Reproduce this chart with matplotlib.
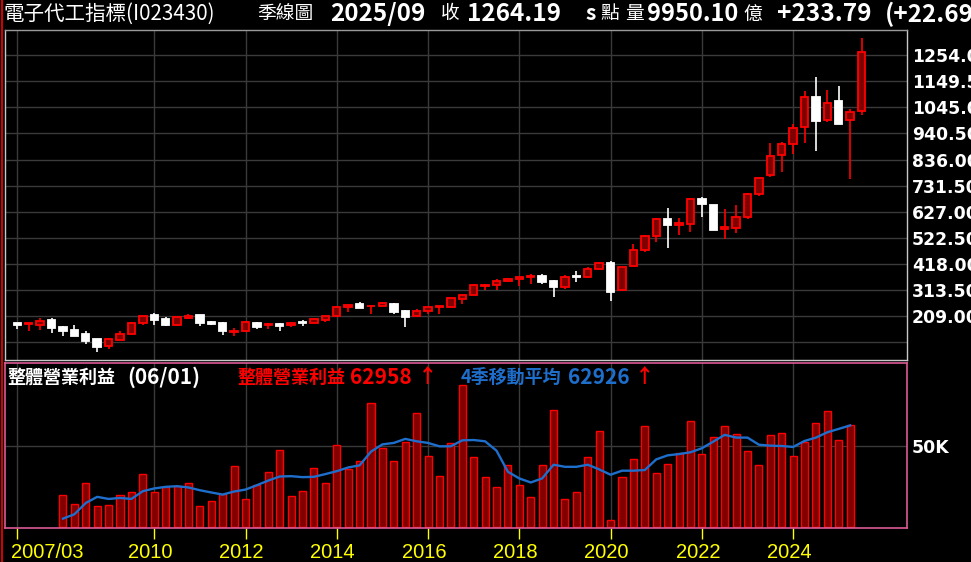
import numpy as np
import matplotlib
matplotlib.use('Agg')
import matplotlib.pyplot as plt
from matplotlib import transforms, font_manager
from matplotlib.lines import Line2D

# ──────────────────────────────────────────────
# DATA  (quarterly, 2007/03 .. 2025/09)
# ──────────────────────────────────────────────
opens = [182, 177, 175.5, 194, 166, 154, 138, 118, 91, 115,
         136.6, 181, 214, 198, 175.5, 203.6, 214, 186, 182, 147,
         148.7, 182, 172.8, 179.5, 172.8, 185, 181, 195.6, 209, 245,
         258.6, 249, 249, 258.6, 230, 209, 231.8, 245, 248, 279.5,
         292.8, 331, 332.6, 348.6, 356.6, 366, 368.5, 348.6, 327.3, 368.5,
         364.5, 396.5, 421.7, 312.7, 408.4, 472.2, 532, 600, 576, 578.7,
         679, 656, 558.6, 562.6, 606.8, 699, 775.3, 855.5, 899.6, 967.8,
         1088, 994.6, 1069.4, 996, 1030.4]
highs = [182, 181, 203.6, 202, 170, 174, 150, 118, 122, 150,
         185, 211.7, 221, 205, 205, 218, 214, 190, 186, 162,
         189, 186, 182, 182, 182, 195.6, 202, 209, 249, 253,
         266.6, 254.6, 266.6, 262.6, 234.5, 237, 245, 250.5, 281, 292.8,
         336.6, 336.6, 356.6, 360.6, 364.5, 376.5, 376.5, 352.6, 372.5, 388.5,
         404.4, 424.4, 429.7, 404.4, 500, 536, 604, 643.7, 604, 683,
         684.3, 656, 638.8, 656, 703, 763, 901, 907.6, 978.5, 1109.6,
         1165.7, 1113.6, 1129.6, 1040, 1322]
lows = [158, 150, 155, 142, 130, 131, 99, 65.6, 77.7, 115,
        136.6, 175.5, 175.5, 171.5, 171.5, 197, 171.5, 175.5, 135, 131,
        146, 159, 159, 151, 167.5, 171.5, 181, 187.6, 207.7, 227.8,
        243.8, 219.7, 249, 219.7, 167.5, 209, 217, 219.7, 248, 259.5,
        292.8, 312.7, 312.7, 344.6, 328.7, 336.6, 336.6, 287.4, 316.7, 347.3,
        364.5, 392.5, 271.5, 308.7, 408.4, 464.3, 508, 483, 533.2, 545.2,
        605.4, 553.3, 517.2, 541.2, 597.4, 691, 766, 786, 859.5, 902.3,
        870.2, 986.5, 978.5, 757.9, 1014.6]
closes = [174, 181, 189, 163.4, 150, 131, 110, 87, 116.5, 138,
          181, 209, 195.6, 175.5, 205, 210, 183.5, 178, 151.4, 150,
          185, 166, 179.5, 171.5, 182, 182, 198, 209, 245, 253,
          243.8, 252, 261, 227.8, 207.7, 229, 245, 250.5, 281, 292.8,
          332.6, 334, 348.6, 356.6, 364.5, 368.5, 346, 326, 364.5, 366,
          396.5, 420.4, 307.4, 404.4, 472.2, 532, 600, 576, 581.3, 679,
          657.6, 553.3, 566.6, 606.8, 699, 763, 851.5, 899.6, 963.8, 1088,
          990.5, 1064, 978.5, 1028, 1264.19]

price_ticks = [104.5, 209.0, 313.5, 418.0, 522.5, 627.0, 731.5, 836.0,
               940.5, 1045.0, 1149.5, 1254.0]

year_tick_idx = [0, 12, 20, 28, 36, 44, 52, 60, 68]
year_labels = ['2007/03', '2010', '2012', '2014', '2016', '2018', '2020', '2022', '2024']

# operating profit (thousand units), 2008/03 .. 2025/06 -> quarter index 4..73
profit_first_idx = 4
profit = [20.1, 14.5, 27.0, 13.3, 13.9, 20.1, 22.0, 32.6, 21.4, 24.5,
          25.3, 27.0, 13.3, 16.4, 20.7, 37.6, 17.6, 26.3, 33.8, 47.5,
          19.5, 22.6, 36.3, 27.0, 50.6, 35.7, 40.7, 76.8, 48.8, 40.7,
          52.5, 70.5, 43.8, 31.3, 51.9, 88.0, 43.2, 30.7, 24.5, 38.2,
          26.3, 18.9, 38.2, 72.4, 17.6, 21.4, 43.2, 59.3, 4.6, 30.7,
          41.9, 62.4, 33.2, 38.8, 45.6, 65.6, 45.0, 55.6, 62.4, 57.5,
          46.9, 38.2, 56.8, 58.1, 43.8, 52.5, 64.3, 71.8, 53.7, 62.958]
profit_ma4 = [5.2, 7.9, 14.9, 18.7, 17.4, 18.0, 17.4, 22.2, 23.9, 24.9,
              25.3, 24.5, 22.8, 21.4, 20.1, 22.0, 23.2, 25.9, 28.8, 31.3,
              31.5, 30.9, 31.1, 32.8, 34.6, 36.9, 38.2, 46.7, 51.2, 52.1,
              54.6, 53.1, 52.1, 50.0, 50.0, 53.7, 53.9, 53.1, 47.3, 34.2,
              30.1, 27.6, 30.1, 38.6, 37.3, 37.3, 38.6, 35.7, 32.4, 34.9,
              34.9, 35.3, 41.9, 44.4, 45.2, 46.3, 48.8, 52.9, 57.1, 55.4,
              55.4, 51.0, 50.4, 50.2, 49.6, 53.3, 55.4, 58.7, 60.8, 62.926]

# ──────────────────────────────────────────────
# STYLE
# ──────────────────────────────────────────────
plt.rcParams['font.family'] = ['Noto Sans CJK TC', 'DejaVu Sans']
BG = 'black'
RED = '#ff0000'
DARKRED = '#800000'
GRID = '#3a3a3a'
FRAME = '#c8c8c8'
PINK = '#dc5a96'
BLUE = '#1e6ecc'
YELLOW = '#ffff00'
W, H = 971, 562

# narrow font for the year labels, if there is one
def pick_narrow():
    for fam, stretch in [('Liberation Sans Narrow', 'normal'), ('Liberation Sans', 'condensed'),
                         ('DejaVu Sans', 'condensed')]:
        fp = font_manager.FontProperties(family=fam, stretch=stretch)
        f = font_manager.findfont(fp, fallback_to_default=False)
        if 'Narrow' in f or 'Condensed' in f:
            return fp, 15.5
    return font_manager.FontProperties(family='Liberation Sans'), 14.5

try:
    YEAR_FP, YEAR_SIZE = pick_narrow()
except Exception:
    YEAR_FP, YEAR_SIZE = font_manager.FontProperties(family='Liberation Sans'), 14.5

fig = plt.figure(figsize=(W / 100, H / 100), dpi=100, facecolor=BG)
ax1 = fig.add_axes([5 / W, 1 - 360 / H, 902 / W, 330.5 / H], facecolor=BG)
ax2 = fig.add_axes([5 / W, 1 - 528 / H, 902 / W, 165 / H], facecolor=BG)
XLIM = (-1.08, 77.98)

# ── price panel: candles ──
o = np.array(opens)
c = np.array(closes)
x = np.arange(len(o))
up = c >= o
wick_col = [RED if u else 'white' for u in up]
face_col = [DARKRED if u else 'white' for u in up]
edge_col = [RED if u else 'white' for u in up]
ax1.vlines(x, lows, highs, colors=wick_col, linewidth=1.2, zorder=2)
ax1.bar(x, np.abs(c - o), bottom=np.minimum(o, c), width=0.65,
        color=face_col, edgecolor=edge_col, linewidth=1.3, zorder=3)

ax1.set_xlim(*XLIM)
ax1.set_ylim(34.2, 1356)
ax1.set_yticks(price_ticks)
ax1.set_yticklabels(['' if v < 200 else f'{v:.2f}' for v in price_ticks])
ax1.yaxis.tick_right()
ax1.tick_params(axis='y', length=0, pad=3.5, labelcolor='white', labelsize=12.4)
for lab in ax1.get_yticklabels():
    lab.set_fontfamily('DejaVu Sans')
    lab.set_fontweight('bold')
ax1.set_xticks(year_tick_idx)
ax1.tick_params(axis='x', length=0, labelbottom=False)
ax1.grid(True, color=GRID, linewidth=1, zorder=0)
ax1.set_axisbelow(True)
for s in ax1.spines.values():
    s.set_color(FRAME)
    s.set_linewidth(1)
ax1.spines['top'].set_color('#9a9a9a')

# ── profit panel ──
px = np.arange(profit_first_idx, profit_first_idx + len(profit))
ax2.bar(px, profit, width=0.62, color=DARKRED, edgecolor=RED, linewidth=1.0, zorder=2)
ax2.plot(px, profit_ma4, color=BLUE, linewidth=1.7, zorder=3)
ax2.set_xlim(*XLIM)
ax2.set_ylim(-0.6, 101.6)
ax2.set_yticks([50])
ax2.set_yticklabels(['50K'])
ax2.yaxis.tick_right()
ax2.tick_params(axis='y', length=0, pad=3.5, labelcolor='white', labelsize=12.4)
for lab in ax2.get_yticklabels():
    lab.set_fontfamily('DejaVu Sans')
    lab.set_fontweight('bold')
ax2.set_xticks(year_tick_idx)
ax2.tick_params(axis='x', length=8, width=1, color=YELLOW, direction='out', labelbottom=False)
ax2.grid(True, color=GRID, linewidth=1, zorder=0)
ax2.set_axisbelow(True)
for s in ax2.spines.values():
    s.set_color(PINK)
    s.set_linewidth(1.2)

# year labels under the profit panel
lab_tr = transforms.blended_transform_factory(ax2.transData, fig.transFigure)
for i, (xi, lab) in enumerate(zip(year_tick_idx, year_labels)):
    if i == 0:
        off = transforms.ScaledTranslation(-6 / 100, 0, fig.dpi_scale_trans)
        ha = 'left'
    else:
        off = transforms.ScaledTranslation(-4 / 100, 0, fig.dpi_scale_trans)
        ha = 'center'
    ax2.text(xi, 1 - 552 / H, lab, transform=lab_tr + off, ha=ha, va='center',
             color=YELLOW, fontproperties=YEAR_FP, fontsize=YEAR_SIZE, clip_on=False)

# ── header ──
def ftxt(px_x, py, s, size, weight='normal', color='white'):
    fig.text(px_x / W, 1 - py / H, s, ha='left', va='center', color=color,
             fontsize=size, fontweight=weight)

HY = 14
ftxt(3, HY, '電子代工指標(I023430)', 14.8)
ftxt(257, HY, '季線圖', 13.5)
ftxt(330, HY, '2025/09', 17.5, 'bold')
ftxt(441, HY, '收', 13.5)
ftxt(467, HY, '1264.19', 17.5, 'bold')
ftxt(586, HY, 's', 15, 'bold')
ftxt(600, HY, '點', 13.5)
ftxt(625, HY, '量', 13.5)
ftxt(647, HY, '9950.10', 17, 'bold')
ftxt(743, HY, '億', 13.5)
ftxt(777, HY, '+233.79', 17.5, 'bold')
ftxt(885, HY, '(+22.69%)', 17.5, 'bold')

# ── profit panel header ──
LY = 377
ftxt(7, LY, '整體營業利益', 13, 'bold')
ftxt(127, LY, '(06/01)', 15, 'bold')
ftxt(237, LY, '整體營業利益', 13, 'bold', RED)
ftxt(350, LY, '62958', 15, 'bold', RED)
ftxt(418, LY, '↑', 14, 'bold', RED)
ftxt(461, LY, '4季移動平均', 13, 'bold', BLUE)
ftxt(568, LY, '62926', 15, 'bold', BLUE)
ftxt(635, LY, '↑', 14, 'bold', RED)

# left red edge line
fig.add_artist(Line2D([1.5 / W, 1.5 / W], [0, 1], color=RED, linewidth=1.2))

fig.savefig('out.png', dpi=100, facecolor=BG)
